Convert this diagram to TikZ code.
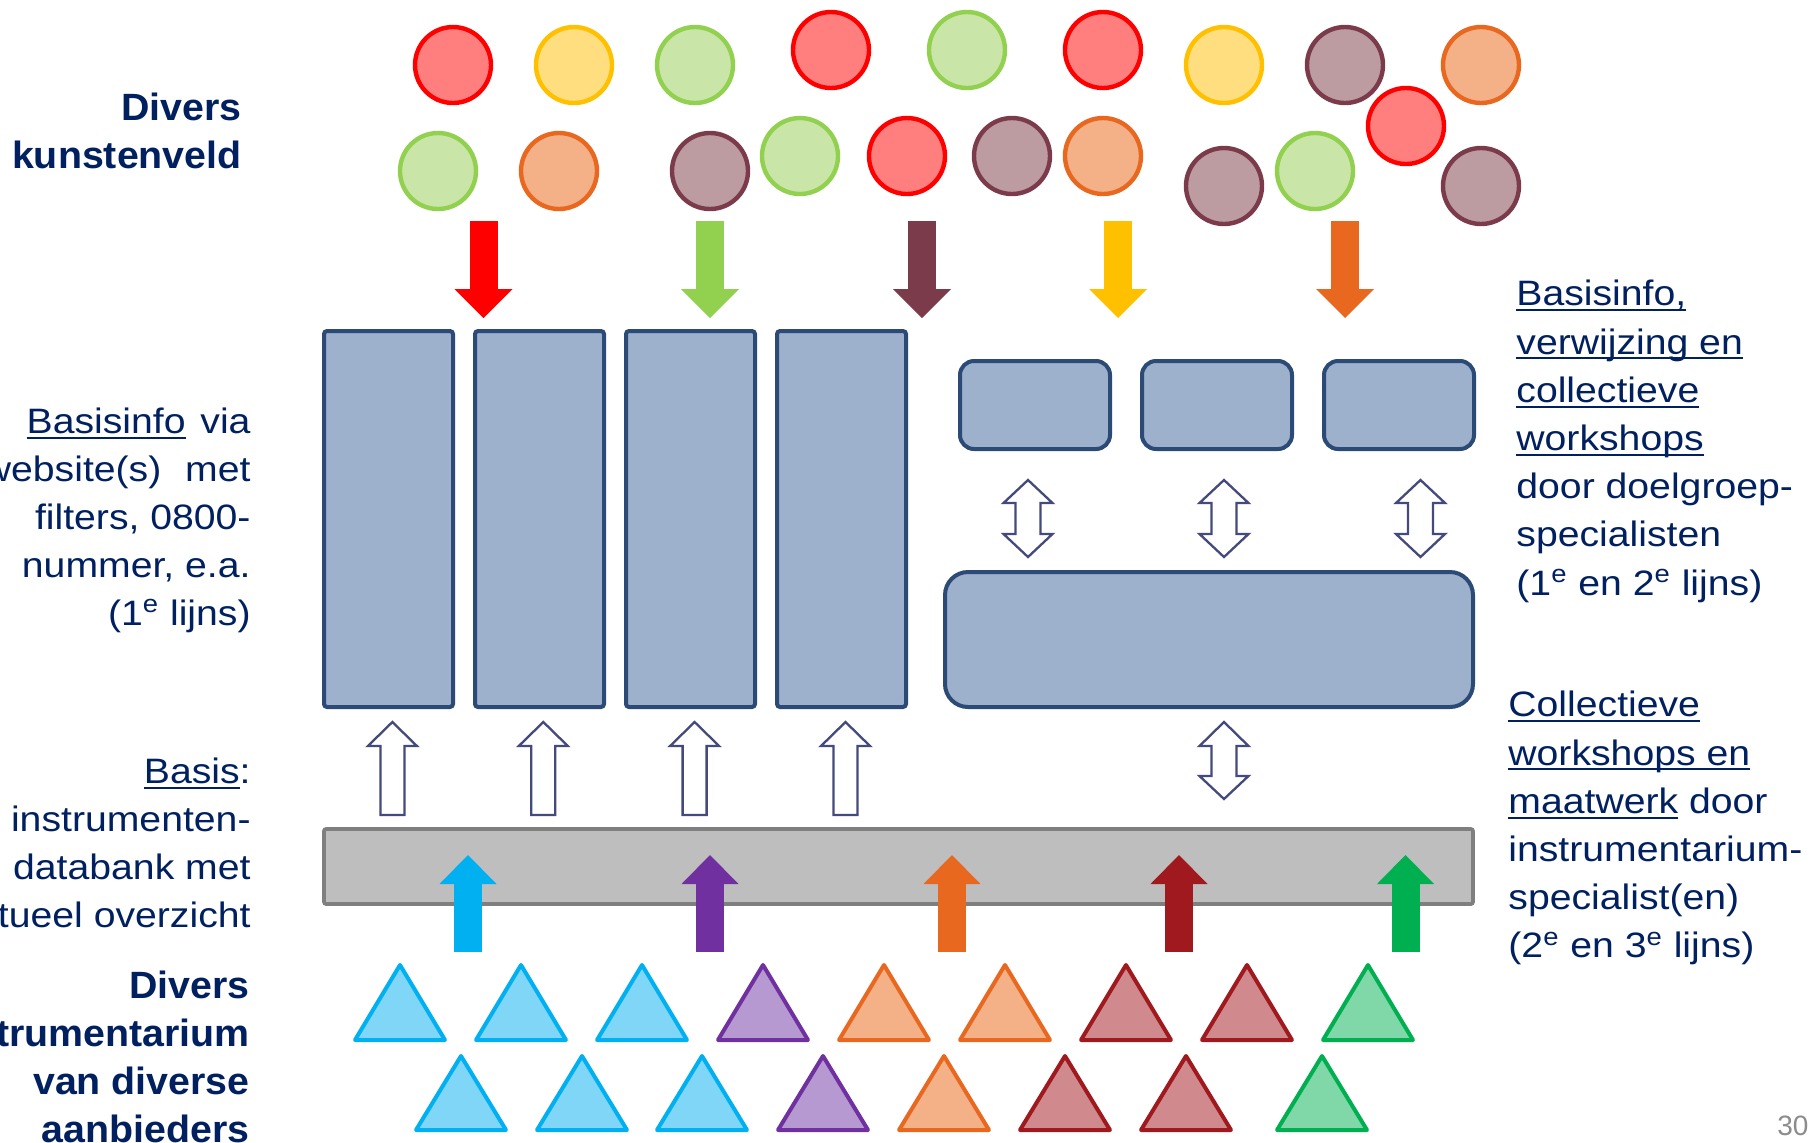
\documentclass[tikz,border=0pt]{standalone}
\usepackage{fontspec}
\setmainfont{Liberation Sans}
\newfontfamily\slidefont{Liberation Sans}[FakeStretch=1.11]
\newfontfamily\slideboldfont{Liberation Sans}[FakeStretch=1.035]
\usepackage{xcolor}
\usepackage{tikz}
\usetikzlibrary{arrows.meta,positioning,calc}

\definecolor{textnavy}{HTML}{002060}
\definecolor{boxline}{HTML}{2C4A76}
\definecolor{boxfill}{HTML}{9DB0CC}
\definecolor{barline}{HTML}{7F7F7F}
\definecolor{barfill}{HTML}{BEBEBE}
\definecolor{hollowline}{HTML}{444A7C}
\definecolor{pagegray}{HTML}{8C8C8C}
% circle colours
\definecolor{redline}{HTML}{FF0000}
\definecolor{redfill}{HTML}{FF7F7F}
\definecolor{yelline}{HTML}{FFC000}
\definecolor{yelfill}{HTML}{FFDE80}
\definecolor{grnline}{HTML}{92D050}
\definecolor{grnfill}{HTML}{C9E6A8}
\definecolor{orgline}{HTML}{E96820}
\definecolor{orgfill}{HTML}{F4B087}
\definecolor{mvline}{HTML}{7B3B4A}
\definecolor{mvfill}{HTML}{BC9BA1}
% triangle colours
\definecolor{cyline}{HTML}{00B0F0}
\definecolor{cyfill}{HTML}{7FD6F7}
\definecolor{puline}{HTML}{7030A0}
\definecolor{pufill}{HTML}{B699D0}
\definecolor{drline}{HTML}{A0191E}
\definecolor{drfill}{HTML}{D08A8D}
\definecolor{gtline}{HTML}{00B050}
\definecolor{gtfill}{HTML}{80D7A8}

\newcommand{\ulword}[1]{\setbox0=\hbox{#1}\rlap{\rule[-2.6pt]{\wd0}{1pt}}\box0\relax}

\begin{document}
\begin{tikzpicture}[x=0.5pt, y=-0.5pt,
  dot/.style={circle, inner sep=0pt, minimum size=38pt, line width=2.2pt},
  rdot/.style={dot, draw=redline, fill=redfill},
  ydot/.style={dot, draw=yelline, fill=yelfill},
  gdot/.style={dot, draw=grnline, fill=grnfill},
  odot/.style={dot, draw=orgline, fill=orgfill},
  mdot/.style={dot, draw=mvline, fill=mvfill},
  tallbox/.style={draw=boxline, fill=boxfill, line width=2pt, rounded corners=1.5pt,
    minimum width=64.5pt, minimum height=188pt, inner sep=0pt},
  smallbox/.style={draw=boxline, fill=boxfill, line width=2pt, rounded corners=7pt,
    minimum width=75pt, minimum height=44pt, inner sep=0pt},
  widebox/.style={draw=boxline, fill=boxfill, line width=2pt, rounded corners=11.5pt,
    minimum width=264pt, minimum height=67.5pt, inner sep=0pt},
  basebar/.style={draw=barline, fill=barfill, line width=1.8pt, rounded corners=1pt,
    minimum width=574.5pt, minimum height=37.5pt, inner sep=0pt},
  downarr/.style={line width=14pt, -{Triangle[width=29pt, length=14.5pt, line width=0pt]}},
  uparr/.style={line width=14pt, -{Triangle[width=28.5pt, length=14.5pt, line width=0pt]}},
  hollow/.style={draw=hollowline, fill=white, line width=1.15pt},
  tri/.style={line width=2pt, line join=round},
  lefttext/.style={anchor=north east, align=right, inner sep=0pt, text=textnavy,
    font=\slidefont\fontsize{17.65pt}{23.9pt}\selectfont},
  boldtext/.style={anchor=north east, align=right, inner sep=0pt, text=textnavy,
    font=\slideboldfont\bfseries\fontsize{19pt}{24pt}\selectfont},
  righttext/.style={anchor=north west, align=left, inner sep=0pt, text=textnavy,
    font=\slidefont\fontsize{17.65pt}{24.1pt}\selectfont}]

% Slide area
\useasboundingbox (0,0) rectangle (1812,1142);
\clip (0,0) rectangle (1812,1142);
\fill[white] (0,0) rectangle (1812,1142);

% Divers kunstenveld (circles)
\node[rdot] (k1) at (453,65) {};
\node[ydot] (k2) at (574,65) {};
\node[gdot] (k3) at (695,65) {};
\node[rdot] (k4) at (831,50) {};
\node[gdot] (k5) at (967,50) {};
\node[rdot] (k6) at (1103,50) {};
\node[ydot] (k7) at (1224,65) {};
\node[mdot] (k8) at (1345,65) {};
\node[odot] (k9) at (1481,65) {};
\node[gdot] (k10) at (438,171) {};
\node[odot] (k11) at (559,171) {};
\node[mdot] (k12) at (710,171) {};
\node[gdot] (k13) at (800,156) {};
\node[rdot] (k14) at (907,156) {};
\node[mdot] (k15) at (1012,156) {};
\node[odot] (k16) at (1103,156) {};
\node[mdot] (k17) at (1224,186) {};
\node[gdot] (k18) at (1315,171) {};
\node[rdot] (k19) at (1406,126) {};
\node[mdot] (k20) at (1481,186) {};

% Vraag vanuit het veld
\draw[downarr, redline] (483.5,221) -- (483.5,318);
\draw[downarr, grnline] (710,221) -- (710,318);
\draw[downarr, mvline] (922,221) -- (922,318);
\draw[downarr, yelline] (1118,221) -- (1118,318);
\draw[downarr, orgline] (1345,221) -- (1345,318);

% 1e lijns: websites
\node[tallbox] (col1) at (388.5,519) {};
\node[tallbox, right=9pt of col1] (col2) {};
\node[tallbox, right=9pt of col2] (col3) {};
\node[tallbox, right=9pt of col3] (col4) {};

% Doelgroep-specialisten
\node[smallbox] (spec1) at (1035,405) {};
\node[smallbox, right=14pt of spec1] (spec2) {};
\node[smallbox, right=14pt of spec2] (spec3) {};
\node[widebox] (workshop) at (1209,639.5) {};

% Hollow arrows
\draw[hollow] (1028,480) -- ++(24.5,23) -- ++(-12,0) -- ++(0,31) -- ++(12,0) -- ++(-24.5,23) -- ++(-24.5,-23) -- ++(12,0) -- ++(0,-31) -- ++(-12,0) -- cycle;
\draw[hollow] (1224,480) -- ++(24.5,23) -- ++(-12,0) -- ++(0,31) -- ++(12,0) -- ++(-24.5,23) -- ++(-24.5,-23) -- ++(12,0) -- ++(0,-31) -- ++(-12,0) -- cycle;
\draw[hollow] (1420.5,480) -- ++(24.5,23) -- ++(-12,0) -- ++(0,31) -- ++(12,0) -- ++(-24.5,23) -- ++(-24.5,-23) -- ++(12,0) -- ++(0,-31) -- ++(-12,0) -- cycle;
\draw[hollow] (1224,722) -- ++(24.5,24) -- ++(-12,0) -- ++(0,30) -- ++(12,0) -- ++(-24.5,23) -- ++(-24.5,-23) -- ++(12,0) -- ++(0,-30) -- ++(-12,0) -- cycle;
\draw[hollow] (392.4,722) -- ++(24.5,24) -- ++(-12.5,0) -- ++(0,69) -- ++(-24,0) -- ++(0,-69) -- ++(-12.5,0) -- cycle;
\draw[hollow] (543.3,722) -- ++(24.5,24) -- ++(-12.5,0) -- ++(0,69) -- ++(-24,0) -- ++(0,-69) -- ++(-12.5,0) -- cycle;
\draw[hollow] (694.6,722) -- ++(24.5,24) -- ++(-12.5,0) -- ++(0,69) -- ++(-24,0) -- ++(0,-69) -- ++(-12.5,0) -- cycle;
\draw[hollow] (845.5,722) -- ++(24.5,24) -- ++(-12.5,0) -- ++(0,69) -- ++(-24,0) -- ++(0,-69) -- ++(-12.5,0) -- cycle;

% Instrumentendatabank
\node[basebar] (databar) at (898.5,866.5) {};

% Aanbod vanuit het instrumentarium
\draw[uparr, cyline] (468,952) -- (468,855);
\draw[uparr, puline] (710,952) -- (710,855);
\draw[uparr, orgline] (952,952) -- (952,855);
\draw[uparr, drline] (1179,952) -- (1179,855);
\draw[uparr, gtline] (1405.5,952) -- (1405.5,855);

% Divers instrumentarium (triangles)
\draw[tri, draw=cyline, fill=cyfill] (400,965) -- ++(45,75) -- ++(-90,0) -- cycle;
\draw[tri, draw=cyline, fill=cyfill] (521,965) -- ++(45,75) -- ++(-90,0) -- cycle;
\draw[tri, draw=cyline, fill=cyfill] (642,965) -- ++(45,75) -- ++(-90,0) -- cycle;
\draw[tri, draw=puline, fill=pufill] (763,965) -- ++(45,75) -- ++(-90,0) -- cycle;
\draw[tri, draw=orgline, fill=orgfill] (884,965) -- ++(45,75) -- ++(-90,0) -- cycle;
\draw[tri, draw=orgline, fill=orgfill] (1005,965) -- ++(45,75) -- ++(-90,0) -- cycle;
\draw[tri, draw=drline, fill=drfill] (1126,965) -- ++(45,75) -- ++(-90,0) -- cycle;
\draw[tri, draw=drline, fill=drfill] (1247,965) -- ++(45,75) -- ++(-90,0) -- cycle;
\draw[tri, draw=gtline, fill=gtfill] (1368,965) -- ++(45,75) -- ++(-90,0) -- cycle;
\draw[tri, draw=cyline, fill=cyfill] (461,1056) -- ++(45,74) -- ++(-90,0) -- cycle;
\draw[tri, draw=cyline, fill=cyfill] (582,1056) -- ++(45,74) -- ++(-90,0) -- cycle;
\draw[tri, draw=cyline, fill=cyfill] (702,1056) -- ++(45,74) -- ++(-90,0) -- cycle;
\draw[tri, draw=puline, fill=pufill] (823,1056) -- ++(45,74) -- ++(-90,0) -- cycle;
\draw[tri, draw=orgline, fill=orgfill] (944,1056) -- ++(45,74) -- ++(-90,0) -- cycle;
\draw[tri, draw=drline, fill=drfill] (1065,1056) -- ++(45,74) -- ++(-90,0) -- cycle;
\draw[tri, draw=drline, fill=drfill] (1186,1056) -- ++(45,74) -- ++(-90,0) -- cycle;
\draw[tri, draw=gtline, fill=gtfill] (1322,1056) -- ++(45,74) -- ++(-90,0) -- cycle;

% Labels left
\node[boldtext] (kunstveld) at (242,93) {Divers\\kunstenveld};
\node[lefttext] (webinfo) at (251,408) {\ulword{Basisinfo}\hspace{2pt} via\\website(s)\hspace{6.5pt} met\\filters, 0800-\\nummer, e.a.\\(1\textsuperscript{e} lijns)};
\node[lefttext] (databank) at (251,758) {\ulword{Basis}:\\instrumenten-\\databank met\\actueel overzicht};
\node[boldtext] (aanbod) at (250,971) {Divers\\instrumentarium\\van diverse\\aanbieders};

% Labels right
\node[righttext] (doelgroep) at (1516,280) {\ulword{Basisinfo,}\\\ulword{verwijzing en}\\\ulword{collectieve}\\\ulword{workshops}\\door doelgroep-\\specialisten\\(1\textsuperscript{e} en 2\textsuperscript{e} lijns)};
\node[righttext] (maatwerk) at (1508,691) {\ulword{Collectieve}\\\ulword{workshops en}\\\ulword{maatwerk} door\\instrumentarium-\\specialist(en)\\(2\textsuperscript{e} en 3\textsuperscript{e} lijns)};

% Slide number
\node[anchor=base west, inner sep=0pt, text=pagegray, font=\fontsize{14pt}{16pt}\selectfont] (slidenr) at (1777,1135) {30};

\end{tikzpicture}
\end{document}
